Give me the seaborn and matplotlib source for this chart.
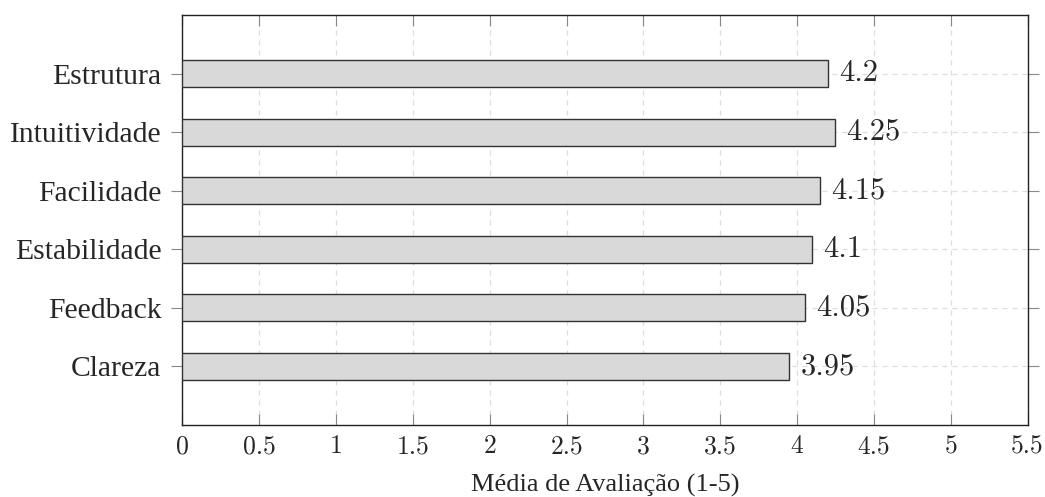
import matplotlib
matplotlib.use("Agg")
import matplotlib.pyplot as plt
import seaborn as sns
import pandas as pd
from matplotlib.ticker import MultipleLocator, FuncFormatter

criterios = ["Estrutura", "Intuitividade", "Facilidade", "Estabilidade", "Feedback", "Clareza"]
medias = [4.2, 4.25, 4.15, 4.1, 4.05, 3.95]

df = pd.DataFrame({"Critério": criterios, "Média": medias})

sns.set_style("white")
plt.rcParams["font.family"] = ["Liberation Serif", "DejaVu Serif"]

fig = plt.figure(figsize=(10.45, 4.97), dpi=100)
ax = fig.add_axes([0.1746, 0.1449, 0.8087, 0.8249])

sns.barplot(data=df, x="Média", y="Critério", orient="h", order=criterios,
            color="#d9d9d9", saturation=1, width=0.46,
            edgecolor="#333333", linewidth=1.0, ax=ax, zorder=3)

# rótulos de valor em fonte Computer Modern
for container in ax.containers:
    ax.bar_label(container, labels=[f"{v:g}" for v in medias], padding=8,
                 fontsize=22, fontfamily="cmr10")

ax.set_xlim(0, 5.5)
ax.set_ylim(6, -1)
ax.xaxis.set_major_locator(MultipleLocator(0.5))
ax.xaxis.set_major_formatter(FuncFormatter(lambda x, p: f"{x:g}"))

ax.grid(True, axis="both", linestyle=(0, (4, 4)), color="#dddddd", linewidth=0.9, zorder=0)
ax.set_axisbelow(True)

ax.tick_params(axis="x", direction="in", length=8, color="#888888", top=True, bottom=True,
               labelsize=18.5, pad=7)
ax.tick_params(axis="y", direction="out", length=8, color="#888888", left=True, right=True,
               labelsize=21.3, pad=7)
for lab in ax.get_xticklabels():
    lab.set_fontfamily("cmr10")

for s in ax.spines.values():
    s.set_color("#222222")
    s.set_linewidth(1.0)

ax.set_xlabel("Média de Avaliação (1-5)", fontsize=19, labelpad=11)
ax.set_ylabel("")

fig.savefig("out.png", dpi=100)
